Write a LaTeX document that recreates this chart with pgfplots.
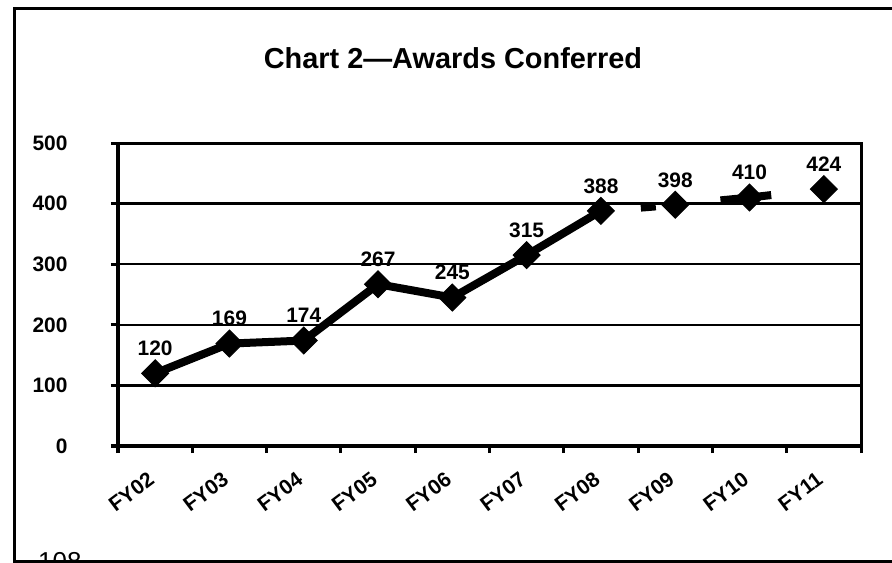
\documentclass[border=0pt]{standalone}
\usepackage{fontspec}
\setmainfont{Liberation Sans}
\usepackage{pgfplots}
\pgfplotsset{compat=1.18}
\begin{document}
\begin{tikzpicture}
\useasboundingbox (0,0) rectangle (892bp,563bp);
\draw[line width=3bp] (14.5bp,0bp) -- (14.5bp,554.5bp) -- (895bp,554.5bp);
\draw[line width=3bp] (13bp,1.5bp) -- (895bp,1.5bp);
\node[font=\fontsize{26}{28}\selectfont, anchor=base west, inner sep=0pt] at (38bp,-7bp) {108};
\node[font=\bfseries\fontsize{29}{32}\selectfont] at (453bp,505bp) {Chart 2—Awards Conferred};
\begin{axis}[
  at={(118bp,117bp)}, anchor=south west, scale only axis,
  width=743bp, height=303bp,
  xmin=-0.5, xmax=9.5, ymin=0, ymax=500,
  ytick={0,100,...,500},
  xtick={0,...,9},
  xticklabels={FY02,FY03,FY04,FY05,FY06,FY07,FY08,FY09,FY10,FY11},
  minor xtick={-0.5,0.5,...,9.5},
  tick align=outside,
  xtick pos=bottom, ytick pos=left,
  ymajorgrids=true,
  major grid style={black, line width=2.5bp},
  axis line style={black, line width=3bp},
  every tick/.style={black, line width=3bp},
  major x tick style={draw=none},
  major tick length=7bp, minor tick length=7bp,
  /pgf/number format/assume math mode=true,
  ticklabel style={font=\bfseries\fontsize{21}{23}\selectfont},
  yticklabel style={anchor=east, xshift=-40bp},
  xticklabel style={rotate=37, anchor=north east, yshift=-6bp, xshift=-14bp},
  clip=false,
]
\addplot[black, line width=8bp, line join=round, mark=none] coordinates {(0,120)(1,169)(2,174)(3,267)(4,245)(5,315)(6,388)};
\addplot[black, line width=8bp, dash pattern=on 0bp off 40bp on 15bp off 65bp on 51bp off 200bp] coordinates {(6,388)(7,398)(8,410)(9,424)};
\addplot[only marks, mark=square*, mark size=9.5bp,
  mark options={rotate=45, fill=black, draw=black, line width=1bp},
  nodes near coords,
  every node near coord/.style={font=\bfseries\fontsize{21}{23}\selectfont, anchor=center, yshift=25bp, text=black}]
  coordinates {(0,120)(1,169)(2,174)(3,267)(4,245)(5,315)(6,388)(7,398)(8,410)(9,424)};
\end{axis}
\end{tikzpicture}
\end{document}
